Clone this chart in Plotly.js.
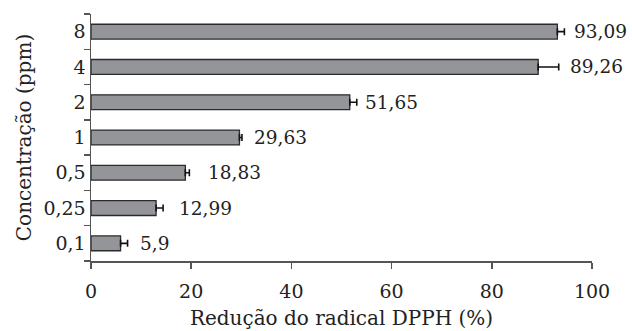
<!DOCTYPE html>
<html><head><meta charset="utf-8">
<script src="https://cdn.plot.ly/plotly-3.0.1.min.js"></script>
<style>body{margin:0;background:#fff}#c{width:632px;height:331px}</style>
</head><body><div id="c"></div>
<script>
const categories = ["0,1","0,25","0,5","1","2","4","8"];
const values = [5.9, 12.99, 18.83, 29.63, 51.65, 89.26, 93.09];
const errors = [1.4, 1.4, 0.8, 0.5, 1.4, 4.1, 1.4];
const labels = ["5,9","12,99","18,83","29,63","51,65","89,26","93,09"];
const labelShift = [10, 14, 17, 10, 6, 9, 8];

const FONT = "DejaVu Serif, Liberation Serif, serif";

const bar = {
  type: "bar", orientation: "h",
  x: values, y: categories,
  width: 0.42,
  marker: {color: "#939598", line: {color: "#2b2b2b", width: 1.3}},
  error_x: {type: "data", symmetric: false, array: errors,
            arrayminus: values.map(() => 0), color: "#111", thickness: 1.6, width: 3.5},
  hoverinfo: "none"
};

const annotations = categories.map((c, i) => ({
  x: values[i] + errors[i], y: i, xref: "x", yref: "y",
  text: labels[i], showarrow: false, xanchor: "left", xshift: labelShift[i],
  font: {family: FONT, size: 18.5, color: "#222"}
}));

const layout = {
  width: 632, height: 331,
  margin: {l: 91, r: 40, t: 14, b: 70},
  paper_bgcolor: "#fff", plot_bgcolor: "#fff",
  showlegend: false,
  font: {family: FONT, size: 19, color: "#222"},
  xaxis: {
    range: [0, 100], tickvals: [0, 20, 40, 60, 80, 100],
    showgrid: false, zeroline: false,
    showline: true, linecolor: "#555", linewidth: 1.5,
    ticks: "outside", ticklen: 6, tickcolor: "#555", tickwidth: 1.5,
    ticklabelstandoff: 7,
    tickfont: {family: FONT, size: 19, color: "#222"},
    title: {text: "Redução do radical DPPH (%)", font: {family: FONT, size: 20, color: "#222"}, standoff: 9}
  },
  yaxis: {
    type: "category", range: [-0.5, 6.5],
    showgrid: false, zeroline: false,
    showline: true, linecolor: "#555", linewidth: 1.5,
    ticks: "outside", ticklen: 6, tickcolor: "#555", tickwidth: 1.5,
    tickson: "boundaries",
    tickfont: {family: FONT, size: 19, color: "#222"},
    title: {text: "Concentração (ppm)", font: {family: FONT, size: 20, color: "#222"}, standoff: 6}
  },
  annotations: annotations
};

Plotly.newPlot("c", [bar], layout, {displayModeBar: false, staticPlot: true});
</script>
</body></html>
